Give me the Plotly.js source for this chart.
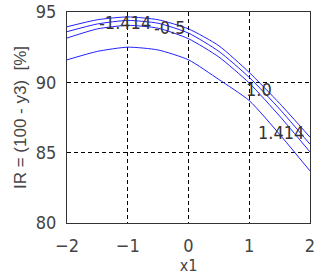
<!DOCTYPE html>
<html>
<head>
<meta charset="utf-8">
<script src="https://cdn.plot.ly/plotly-3.0.1.min.js"></script>
<style>
  html, body { margin: 0; padding: 0; background: #fff; }
  #plot { width: 322px; height: 278px; }
</style>
</head>
<body>
<div id="plot"></div>
<script>
// x1 grid shared by all curves
var x1 = [-2, -1.5, -1, -0.5, 0, 0.5, 1, 1.5, 2];

// IR curves, one per x2 level
var irA = [93.95, 94.45, 94.65, 94.45, 93.8, 92.6, 90.7, 88.5, 86.1];
var irB = [93.6, 94.15, 94.4, 94.2, 93.5, 92.2, 90.35, 88.1, 85.6];
var irC = [93.15, 93.8, 94.05, 93.85, 93.1, 91.8, 89.95, 87.6, 85.05];
var irD = [91.6, 92.2, 92.5, 92.3, 91.6, 90.2, 88.7, 86.3, 83.7];

// curve labels
var labelText = ["-1.414", "-0.5", "1.0", "1.414"];
var labelX = [-1.05, -0.3, 1.16, 1.52];
var labelY = [94.24, 93.9, 89.5, 86.46];

var xTicks = [-2, -1, 0, 1, 2];
var yTicks = [80, 85, 90, 95];

var font = "DejaVu Sans Condensed, Liberation Sans Narrow, sans-serif";

var curves = [irA, irB, irC, irD];
var data = curves.map(function (ir) {
    return {
        x: x1,
        y: ir,
        type: "scatter",
        mode: "lines",
        line: {color: "#2222ff", width: 1, shape: "spline", smoothing: 0.6},
        hoverinfo: "skip"
    };
});

var annotations = labelText.map(function (t, i) {
    return {
        x: labelX[i], y: labelY[i], xref: "x", yref: "y",
        text: t, showarrow: false,
        font: {family: font, size: 18, color: "#333"}
    };
});

var axisCommon = {
    showline: true, mirror: true, linecolor: "#333", linewidth: 1,
    showgrid: true, gridcolor: "#000", gridwidth: 1, griddash: "4px,3px",
    zeroline: false, ticks: "", ticklabeloverflow: "allow",
    tickfont: {family: font, size: 18, color: "#444"}
};

var layout = {
    width: 322, height: 278,
    margin: {l: 67, r: 12, t: 12, b: 55},
    paper_bgcolor: "#fff", plot_bgcolor: "#fff",
    showlegend: false,
    xaxis: Object.assign({}, axisCommon, {
        range: [-2, 2], tickvals: xTicks, ticklabelstandoff: 6,
        title: {text: "x1", font: {family: font, size: 16, color: "#444"}, standoff: 2}
    }),
    yaxis: Object.assign({}, axisCommon, {
        range: [80, 95], tickvals: yTicks, ticklabelstandoff: 6,
        title: {text: "IR = (100 - y3) &nbsp;[%]", font: {family: "Liberation Sans, sans-serif", size: 17, color: "#444"}, standoff: 4}
    }),
    annotations: annotations
};

Plotly.newPlot("plot", data, layout, {staticPlot: true});
</script>
</body>
</html>
